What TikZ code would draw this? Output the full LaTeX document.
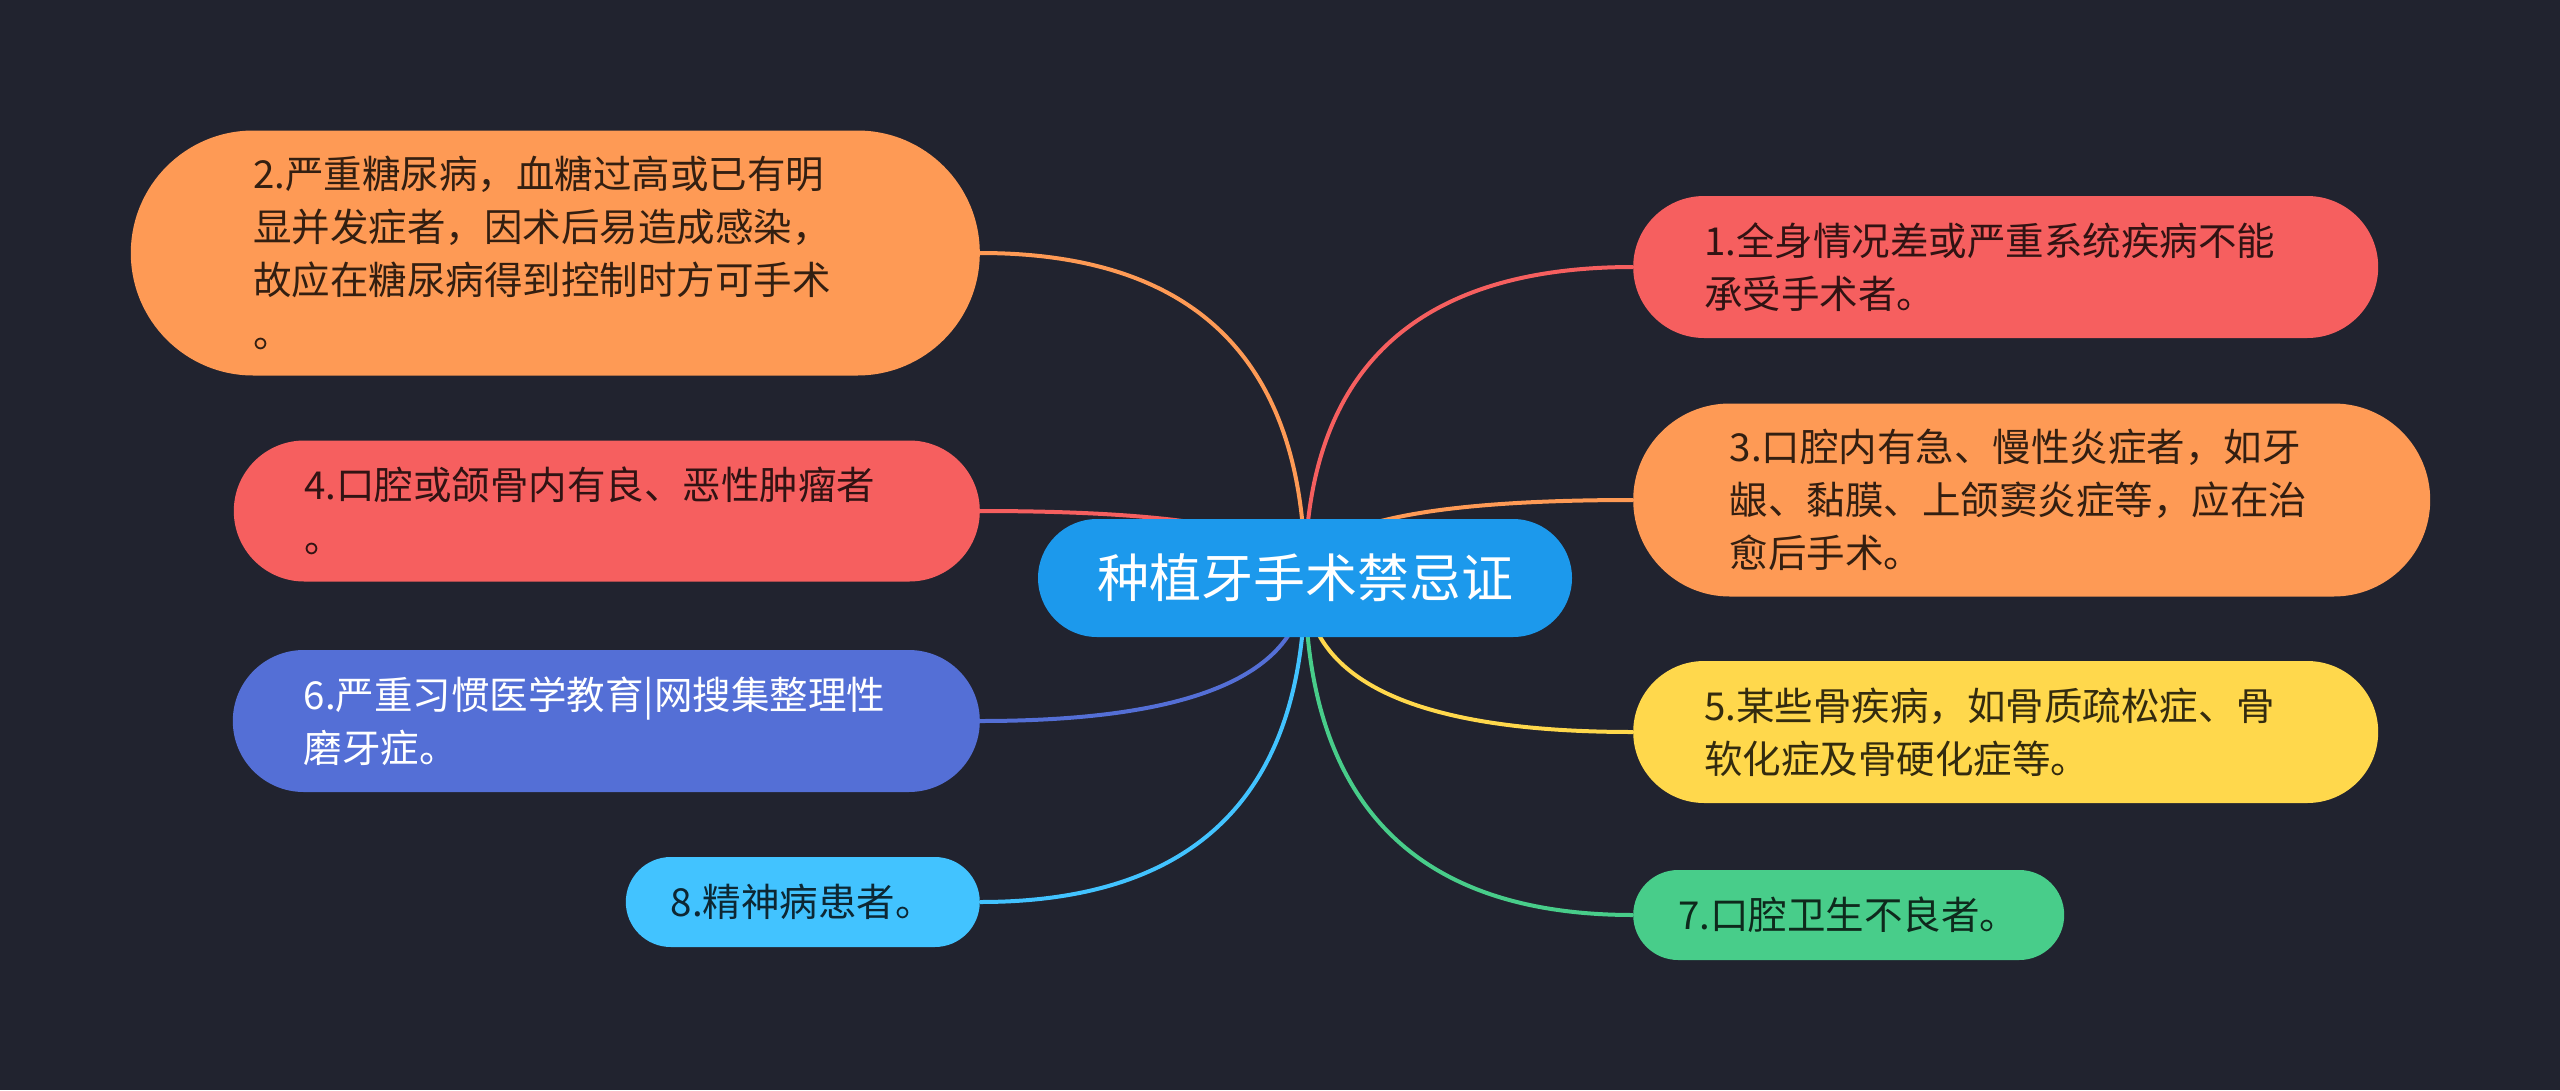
\documentclass[tikz,border=0pt]{standalone}
\usepackage{fontspec}
\newfontfamily\cjk{Noto Sans CJK SC}
\usetikzlibrary{calc}
\definecolor{mmNavy}{HTML}{21232F}
\definecolor{mmBlue}{HTML}{1C99EC}
\definecolor{mmOrange}{HTML}{FE9A55}
\definecolor{mmRed}{HTML}{F65F5F}
\definecolor{mmIndigo}{HTML}{546FD6}
\definecolor{mmSky}{HTML}{42C3FF}
\definecolor{mmYellow}{HTML}{FFD84C}
\definecolor{mmGreen}{HTML}{48CD8A}
\pgfdeclarelayer{back}
\pgfdeclarelayer{links}
\pgfsetlayers{back,links,main}
\tikzset{
  mm root/.style={fill=mmBlue, text=white, font=\cjk\fontsize{52}{60}\selectfont, minimum height=118pt, rounded corners=59pt, inner xsep=59pt, inner ysep=0pt},
  mm leaf/.style n args={3}{fill=#1, text=#1!20!black, font=\cjk\fontsize{38.5}{53}\selectfont, align=left, minimum height=#2, rounded corners=#2/2, inner xsep=#2/2, inner ysep=0pt, text width=#3},
  mm link/.style={line width=4pt},
}

\begin{document}
\begin{tikzpicture}[x=1pt,y=-1pt]
  \begin{pgfonlayer}{back}
    \fill[mmNavy] (0,0) rectangle (2560,1090);
  \end{pgfonlayer}
  \useasboundingbox (0,0) rectangle (2560,1090);

  \node[mm root] (root) at (1305,578) {种植牙手术禁忌证};

  \node[mm leaf={mmRed}{142pt}{603pt}, anchor=west] (n1) at (1633,267)
    {1.全身情况差或严重系统疾病不能\\承受手术者。};
  \node[mm leaf={mmOrange}{245pt}{604pt}, anchor=east] (n2) at (980,253)
    {2.严重糖尿病，血糖过高或已有明\\显并发症者，因术后易造成感染，\\故应在糖尿病得到控制时方可手术\\。};
  \node[mm leaf={mmOrange}{193pt}{604pt}, anchor=west] (n3) at (1633,500)
    {3.口腔内有急、慢性炎症者，如牙\\龈、黏膜、上颌窦炎症等，应在治\\愈后手术。};
  \node[mm leaf={mmRed}{141pt}{605pt}, anchor=east] (n4) at (980,511)
    {4.口腔或颌骨内有良、恶性肿瘤者\\。};
  \node[mm leaf={mmYellow}{142pt}{603pt}, anchor=west] (n5) at (1633,732)
    {5.某些骨疾病，如骨质疏松症、骨\\软化症及骨硬化症等。};
  \node[mm leaf={mmIndigo}{142pt}{605pt}, anchor=east, text=white] (n6) at (980,721)
    {6.严重习惯医学教育|网搜集整理性\\磨牙症。};
  \node[mm leaf={mmGreen}{90pt}{341pt}, anchor=west] (n7) at (1633,915)
    {7.口腔卫生不良者。};
  \node[mm leaf={mmSky}{90pt}{264pt}, anchor=east] (n8) at (980,902)
    {8.精神病患者。};

  \begin{pgfonlayer}{links}
    \foreach \leaf/\side/\col in {n1/west/mmRed, n2/east/mmOrange, n3/west/mmOrange, n4/east/mmRed,
                                  n5/west/mmYellow, n6/east/mmIndigo, n7/west/mmGreen, n8/east/mmSky}{
      \coordinate (bend) at (root.center |- \leaf.\side);
      \draw[mm link, draw=\col] (root.center) .. controls ($(root.center)!2/3!(bend)$) and ($(\leaf.\side)!2/3!(bend)$) .. (\leaf.\side);
    }
  \end{pgfonlayer}
\end{tikzpicture}
\end{document}
